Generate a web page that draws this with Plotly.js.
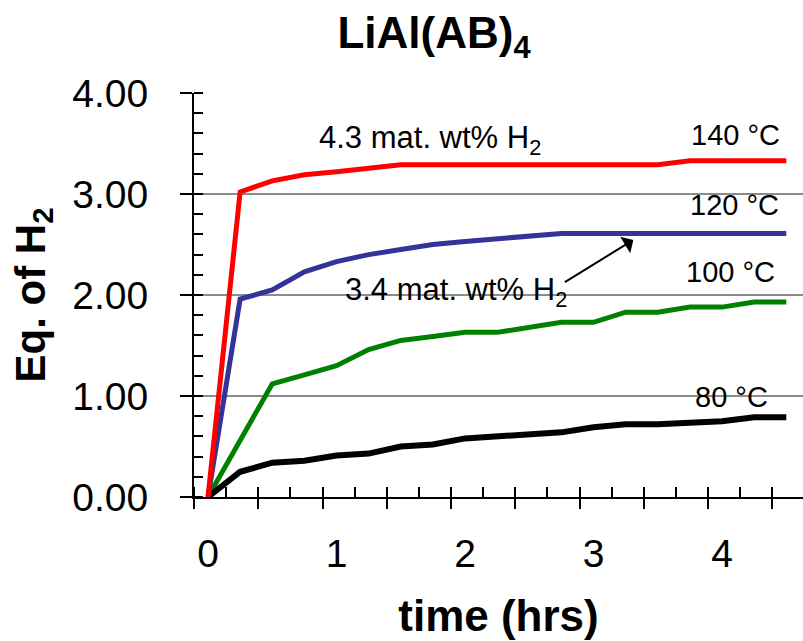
<!DOCTYPE html>
<html>
<head>
<meta charset="utf-8">
<script src="https://cdn.plot.ly/plotly-3.0.1.min.js"></script>
<style>html,body{margin:0;padding:0;background:#fff;}#chart{width:803px;height:641px;}</style>
</head>
<body>
<div id="chart"></div>
<script>
// Time (hrs)
const time = [0, 0.25, 0.5, 0.75, 1.0, 1.25, 1.5, 1.75, 2.0, 2.25, 2.5, 2.75, 3.0, 3.25, 3.5, 3.75, 4.0, 4.25, 4.5];
// Eq. of H2 at each temperature
const h2_140C = [0, 3.02, 3.13, 3.19, 3.22, 3.26, 3.29, 3.29, 3.29, 3.29, 3.29, 3.29, 3.29, 3.29, 3.29, 3.33, 3.33, 3.33, 3.33];
const h2_120C = [0, 1.96, 2.05, 2.23, 2.33, 2.40, 2.45, 2.50, 2.53, 2.56, 2.59, 2.61, 2.61, 2.61, 2.61, 2.61, 2.61, 2.61, 2.61];
const h2_100C = [0, 0.56, 1.12, 1.21, 1.30, 1.46, 1.55, 1.59, 1.63, 1.63, 1.68, 1.73, 1.73, 1.83, 1.83, 1.88, 1.88, 1.93, 1.93];
const h2_80C  = [0, 0.25, 0.34, 0.36, 0.41, 0.43, 0.50, 0.52, 0.58, 0.60, 0.62, 0.64, 0.69, 0.72, 0.72, 0.74, 0.75, 0.79, 0.79];
const seriesNames = ['140 °C', '120 °C', '100 °C', '80 °C'];
const seriesColors = ['#ff0000', '#333399', '#008000', '#000000'];
const xTickVals = [0, 1, 2, 3, 4];
const yTickVals = [0, 1, 2, 3, 4];

const FONT = 'Liberation Sans, Arial, Helvetica, sans-serif';
const seriesData = [h2_140C, h2_120C, h2_100C, h2_80C];
// red on x2/y, blue on x/y2 so that the overlay tick axes are drawn
const axisPairs = [['x2', 'y'], ['x', 'y2'], ['x', 'y'], ['x', 'y']];
const traces = seriesData.map((ys, i) => ({
  x: time, y: ys, type: 'scatter', mode: 'lines', name: seriesNames[i],
  xaxis: axisPairs[i][0], yaxis: axisPairs[i][1],
  line: {color: seriesColors[i], width: i === 3 ? 6 : 5}, showlegend: false, hoverinfo: 'x+y'
}));

const layout = {
  width: 803, height: 641,
  margin: {l: 194, r: 0, t: 93, b: 144, pad: 0},
  paper_bgcolor: '#fff', plot_bgcolor: '#fff',
  font: {family: FONT, color: '#000'},
  showlegend: false,
  title: {text: '<b>LiAl(AB)<sub>4</sub></b>', font: {size: 44, family: FONT, color: '#000'},
          xref: 'container', x: 434/803, xanchor: 'center', yref: 'container', y: 1 - 33/641, yanchor: 'middle'},
  xaxis: {
    range: [-0.109, 4.63], tickmode: 'array', tickvals: xTickVals, ticktext: xTickVals.map(String),
    ticks: '', showgrid: false, zeroline: false, showline: true, linecolor: '#000', linewidth: 2,
    tickfont: {size: 39, family: FONT, color: '#000'}, ticklabelstandoff: 21,
    title: {text: '<b>time (hrs)</b>', font: {size: 44, family: FONT, color: '#000'}, standoff: 26}
  },
  xaxis2: {
    overlaying: 'x', matches: 'x', anchor: 'y', side: 'bottom',
    showticklabels: false, showgrid: false, zeroline: false, showline: false,
    tick0: -0.109, dtick: 0.5, ticks: 'outside', ticklen: 11, tickwidth: 2, tickcolor: '#000',
    minor: {ticks: 'inside', tick0: -0.109, dtick: 0.25, ticklen: 10, tickwidth: 2, tickcolor: '#000', showgrid: false}
  },
  yaxis: {
    range: [0, 4], tickmode: 'array', tickvals: yTickVals, tickformat: '.2f',
    ticks: 'outside', ticklen: 12, tickwidth: 2, tickcolor: '#000',
    minor: {ticks: 'inside', dtick: 0.2, tick0: 0, ticklen: 9, tickwidth: 2, tickcolor: '#000', showgrid: false},
    showgrid: true, gridcolor: '#8c8c8c', gridwidth: 1.5, zeroline: false,
    showline: true, linecolor: '#000', linewidth: 2,
    tickfont: {size: 39, family: FONT, color: '#000'}, ticklabelstandoff: 24,
    title: {text: '<b>Eq. of H<sub>2</sub></b>', font: {size: 42, family: FONT, color: '#000'}, standoff: 14}
  },
  yaxis2: {
    overlaying: 'y', matches: 'y', anchor: 'x', side: 'left',
    showticklabels: false, showgrid: false, zeroline: false, showline: false,
    tickmode: 'array', tickvals: yTickVals, ticks: 'inside', ticklen: 9, tickwidth: 2, tickcolor: '#000'
  },
  annotations: [
    {text: '4.3 mat. wt% H<sub>2</sub>', x: 0.848, y: 3.53, xref: 'x', yref: 'y', xanchor: 'left', yanchor: 'middle', showarrow: false, font: {size: 31, family: FONT, color: '#000'}},
    {text: '140 °C', x: 4.47, y: 3.58, xref: 'x', yref: 'y', xanchor: 'right', yanchor: 'middle', showarrow: false, font: {size: 29, family: FONT, color: '#000'}},
    {text: '120 °C', x: 4.46, y: 2.89, xref: 'x', yref: 'y', xanchor: 'right', yanchor: 'middle', showarrow: false, font: {size: 29, family: FONT, color: '#000'}},
    {text: '100 °C', x: 4.43, y: 2.23, xref: 'x', yref: 'y', xanchor: 'right', yanchor: 'middle', showarrow: false, font: {size: 29, family: FONT, color: '#000'}},
    {text: '80 °C', x: 4.37, y: 0.99, xref: 'x', yref: 'y', xanchor: 'right', yanchor: 'middle', showarrow: false, font: {size: 29, family: FONT, color: '#000'}},
    {text: '3.4 mat. wt% H<sub>2</sub>', x: 1.05, y: 2.03, xref: 'x', yref: 'y', xanchor: 'left', yanchor: 'middle', showarrow: false, font: {size: 31, family: FONT, color: '#000'}},
    {text: '', x: 3.31, y: 2.545, xref: 'x', yref: 'y', showarrow: true, ax: -70, ay: 43, arrowhead: 1, arrowsize: 1.6, arrowwidth: 2, arrowcolor: '#000', standoff: 0, startstandoff: 0}
  ]
};

Plotly.newPlot('chart', traces, layout, {displayModeBar: false, staticPlot: true});
</script>
</body>
</html>
